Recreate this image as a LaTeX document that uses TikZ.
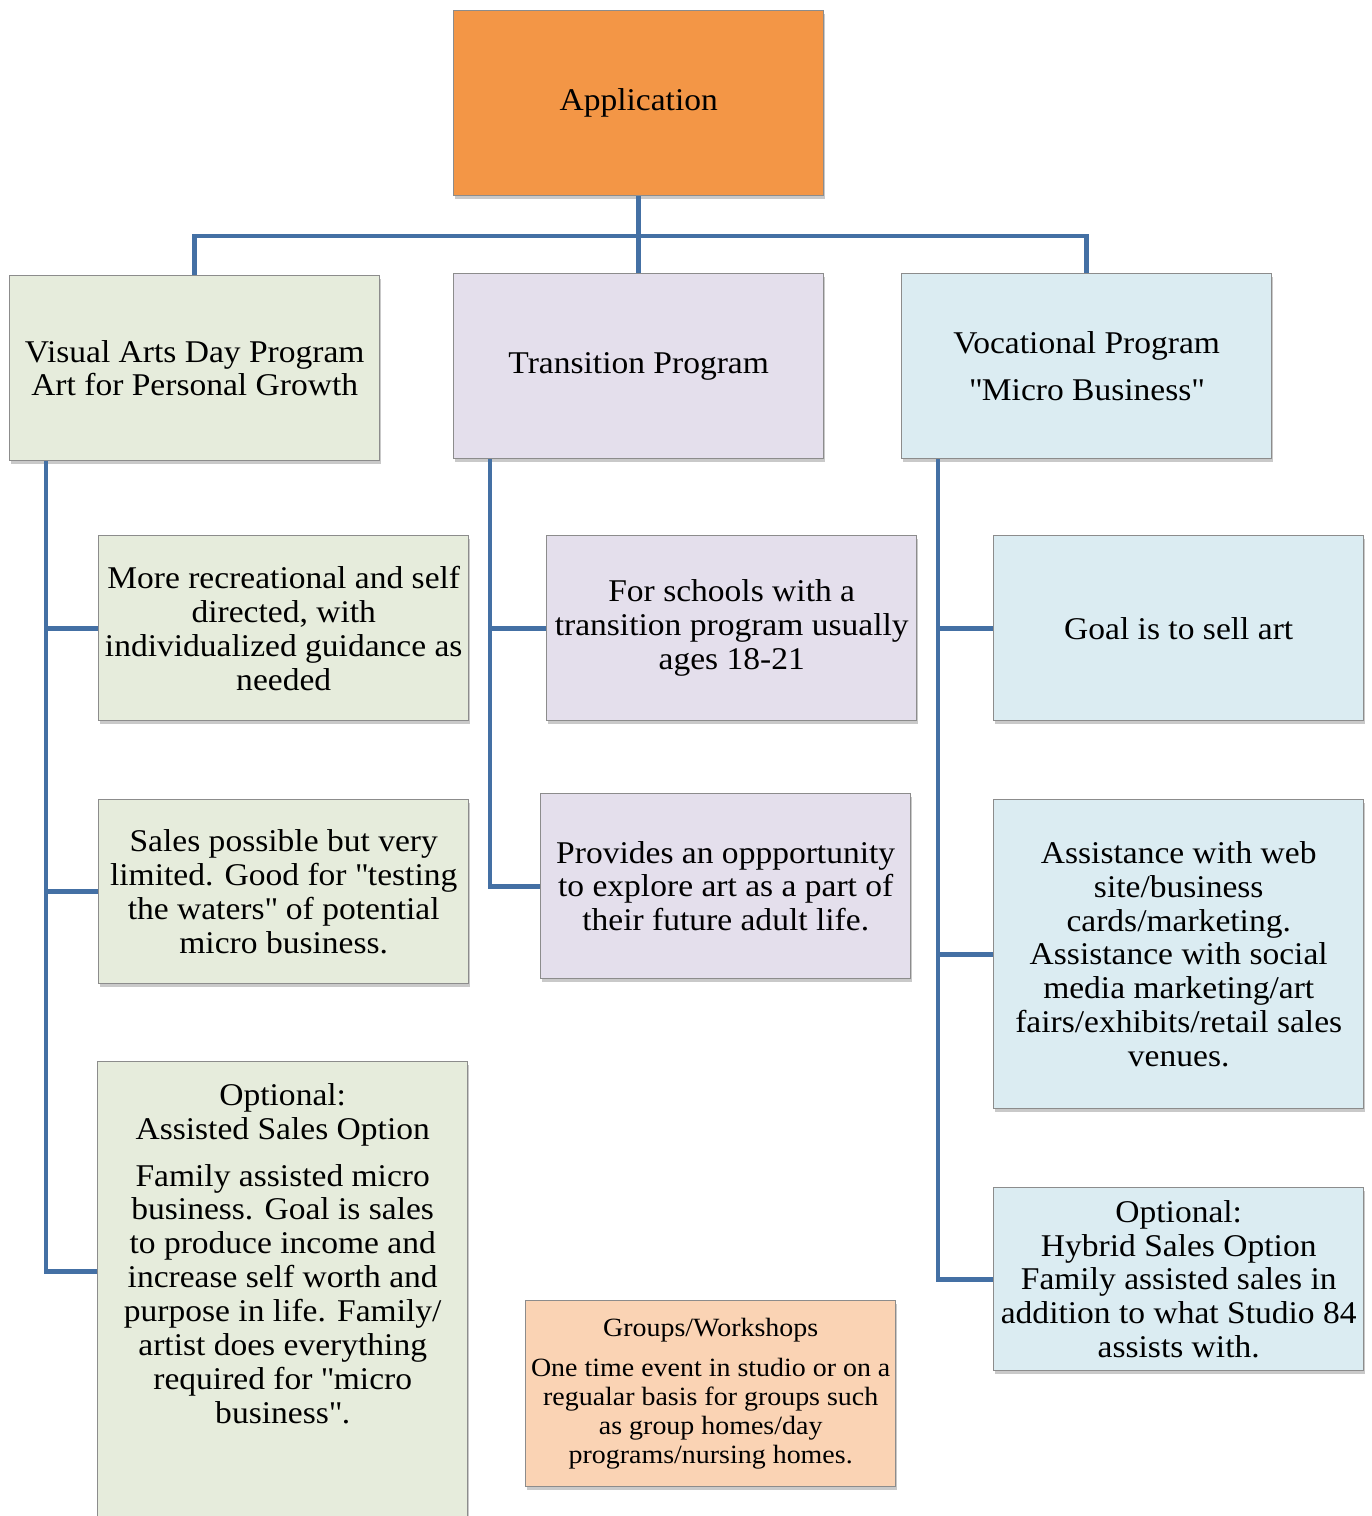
\documentclass[tikz,border=0pt]{standalone}
\usepackage{fontspec}
\setmainfont[FakeStretch=1.06]{Liberation Serif}
\usepackage{tikz}
\usetikzlibrary{shadows}

\definecolor{apporange}{RGB}{243,150,70}
\definecolor{visgreen}{RGB}{230,236,220}
\definecolor{trnlilac}{RGB}{228,223,236}
\definecolor{vocblue}{RGB}{219,236,242}
\definecolor{grppeach}{RGB}{250,211,180}
\definecolor{linkblue}{RGB}{68,112,164}
\definecolor{boxedge}{RGB}{140,140,140}

\newcommand{\dq}{\textquotedbl}

\tikzset{
  chartbox/.style={rectangle, draw=boxedge, line width=0.8pt, anchor=north west,
    minimum width=7.4cm, minimum height=3.7cm, inner sep=1pt, align=center,
    font=\fontsize{18}{19.3}\selectfont,
    drop shadow={shadow xshift=0.03cm, shadow yshift=-0.07cm, opacity=0.3, fill=black!70}},
  link/.style={draw=linkblue, line width=2.8pt}
}

\begin{document}
\begin{tikzpicture}
\useasboundingbox (0,0) rectangle (27.42,-30.32);
% top level
\node[chartbox, fill=apporange] (app) at (9.06,-0.20) {Application};
\node[chartbox, fill=visgreen] (vis) at (0.18,-5.50) {Visual Arts Day Program\\Art for Personal Growth};
\node[chartbox, fill=trnlilac] (trn) at (9.06,-5.46) {Transition Program};
\node[chartbox, fill=vocblue] (voc) at (18.02,-5.46) {Vocational Program\\[7pt]\dq Micro Business\dq};
\coordinate (hub) at (12.76,-4.72);

% day program
\node[chartbox, fill=visgreen] (more) at (1.96,-10.70) {More recreational and self\\directed, with\\individualized guidance as\\needed};
\node[chartbox, fill=visgreen, minimum height=3.68cm] (sales) at (1.96,-15.98) {Sales possible but very\\limited. Good for \dq testing\\the waters\dq{} of potential\\micro business.};
\node[chartbox, fill=visgreen, minimum height=9.28cm] (opt) at (1.94,-21.22) {Optional:\\Assisted Sales Option\\[7pt]Family assisted micro\\business. Goal is sales\\to produce income and\\increase self worth and\\purpose in life. Family/\\artist does everything\\required for \dq micro\\business\dq.\rule[-1.6cm]{0pt}{1pt}};

% transition
\node[chartbox, fill=trnlilac] (sch) at (10.92,-10.70) {For schools with a\\transition program usually\\ages 18-21};
\node[chartbox, fill=trnlilac] (prov) at (10.80,-15.86) {Provides an oppportunity\\to explore art as a part of\\their future adult life.};

% vocational
\node[chartbox, fill=vocblue] (goal) at (19.86,-10.70) {Goal is to sell art};
\node[chartbox, fill=vocblue, minimum height=6.18cm] (web) at (19.86,-15.98) {Assistance with web\\site/business\\cards/marketing.\\Assistance with social\\media marketing/art\\fairs/exhibits/retail sales\\venues.};
\node[chartbox, fill=vocblue, minimum height=3.66cm] (hyb) at (19.86,-23.74) {Optional:\\Hybrid Sales Option\\Family assisted sales in\\addition to what Studio 84\\assists with.};

% groups
\node[chartbox, fill=grppeach, minimum height=3.72cm, font=\fontsize{15}{16.5}\selectfont] (grp) at (10.50,-26.00) {Groups/Workshops\\[6pt]One time event in studio or on a\\regualar basis for groups such\\as group homes/day\\programs/nursing homes.};

% connectors
\draw[link] (app.south) -- (trn.north);
\draw[link] (vis.north) |- (hub) -| (voc.north);
\draw[link] ([xshift=0.74cm]vis.south west) |- (more.west);
\draw[link] ([xshift=0.74cm]vis.south west) |- (sales.west);
\draw[link] ([xshift=0.74cm]vis.south west) |- ([yshift=0.45cm]opt.west);
\draw[link] ([xshift=0.74cm]trn.south west) |- (sch.west);
\draw[link] ([xshift=0.74cm]trn.south west) |- (prov.west);
\draw[link] ([xshift=0.74cm]voc.south west) |- (goal.west);
\draw[link] ([xshift=0.74cm]voc.south west) |- (web.west);
\draw[link] ([xshift=0.74cm]voc.south west) |- (hyb.west);
\end{tikzpicture}
\end{document}
